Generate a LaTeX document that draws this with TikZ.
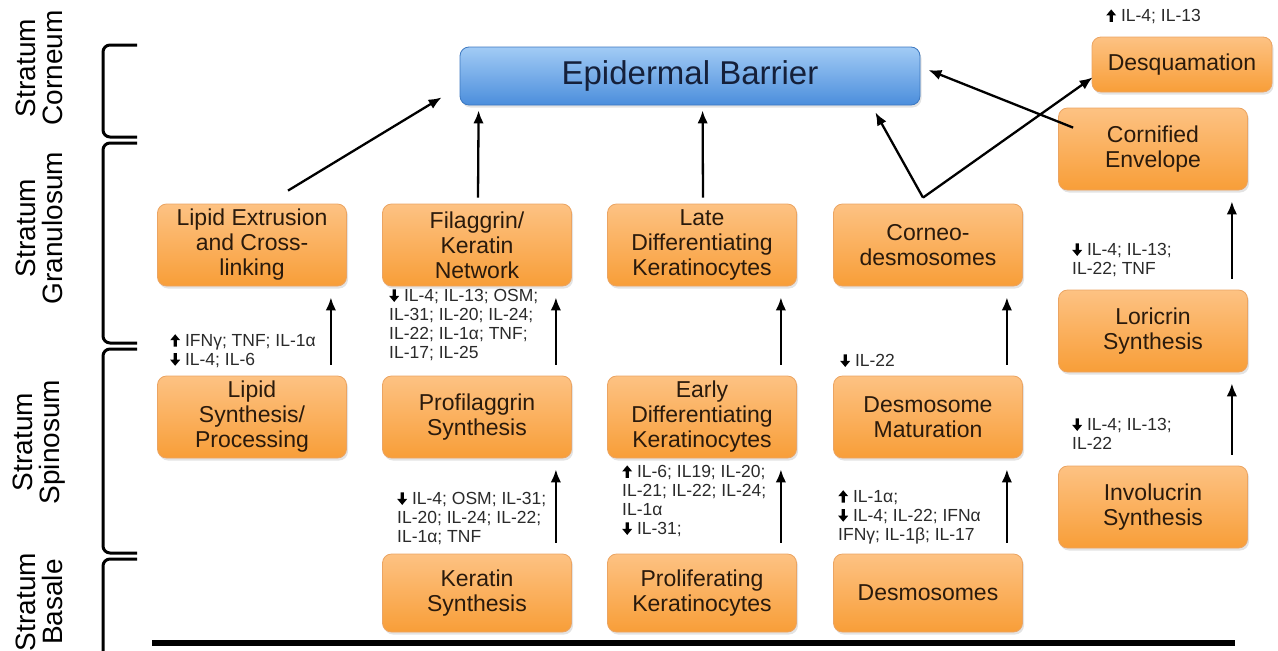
\documentclass[tikz,border=0pt]{standalone}
\usepackage{fontspec}
\setmainfont{Liberation Sans}
\usetikzlibrary{arrows.meta,calc,shadows}
\definecolor{ortop}{HTML}{FDC283}
\definecolor{orbot}{HTML}{F89E38}
\definecolor{ordraw}{HTML}{EBA462}
\definecolor{btop}{HTML}{A2CBF5}
\definecolor{bbot}{HTML}{4B8EDC}
\definecolor{bdraw}{HTML}{3C78C0}
\definecolor{boxtext}{HTML}{2A1A0C}
\definecolor{ebtext}{HTML}{15203A}
\definecolor{labtext}{HTML}{2A2A2A}
\newcommand{\uparr}{\tikz[baseline=0pt,x=1pt,y=1pt]\fill[black] (-1.6,-0.5) -- (1.6,-0.5) -- (1.6,6) -- (5,6) -- (0,12) -- (-5,6) -- (-1.6,6) -- cycle;}
\newcommand{\dnarr}{\tikz[baseline=0pt,x=1pt,y=1pt]\fill[black] (-1.6,12) -- (1.6,12) -- (1.6,5.5) -- (5,5.5) -- (0,-0.5) -- (-5,5.5) -- (-1.6,5.5) -- cycle;}
\tikzset{
  obox/.style={draw=ordraw, line width=0.8pt, rounded corners=9pt,
    top color=ortop, bottom color=orbot, minimum width=189pt, minimum height=82pt,
    align=center, font=\fontsize{23}{25}\selectfont, text=boxtext, inner sep=2pt,
    drop shadow={opacity=0.22, shadow xshift=1.5pt, shadow yshift=-2.5pt}},
  bbox/.style={obox, draw=bdraw, top color=btop, bottom color=bbot,
    font=\fontsize{33}{35}\selectfont, text=ebtext},
  lab/.style={anchor=north west, align=left, inner sep=0pt,
    font=\fontsize{17.5}{19}\selectfont, text=labtext},
  arr/.style={-{Latex[length=13pt,width=10.5pt]}, line width=2.3pt},
  bracepath/.style={line width=3pt, rounded corners=7pt},
  layer/.style={rotate=90, align=center, font=\fontsize{28}{27}\selectfont, inner sep=0pt},
}
\begin{document}
\begin{tikzpicture}[x=1pt,y=-1pt]
\useasboundingbox (0,0) rectangle (1278,651);

% layer labels
\node[layer] (lc) at (39,68) {Stratum\\Corneum};
\node[layer] (lg) at (39,228) {Stratum\\Granulosum};
\node[layer] (ls) at (39,442) {Stratum\\Spinosum};
\node[layer] (lb) at (39,602) {Stratum\\Basale};

% braces
\draw[bracepath] (137,45) -- (103,45) -- (103,137) -- (137,137);
\draw[bracepath] (137,143) -- (103,143) -- (103,343) -- (137,343);
\draw[bracepath] (137,349) -- (103,349) -- (103,553) -- (137,553);
\draw[bracepath] (137,559) -- (103,559) -- (103,670);
\draw[line width=5.5pt] (152,643) -- (1235,643);

% boxes
\node[bbox, minimum width=460pt, minimum height=58pt] (eb) at (690,76) {Epidermal Barrier};
\node[obox, minimum width=180pt, minimum height=55pt] (desq) at (1182,64.5) {Desquamation};
\node[obox] (corn) at (1153,149) {Cornified\\Envelope};

\node[obox] (ext) at (252,245) {Lipid Extrusion\\and Cross-\\linking};
\node[obox] (fil) at (477,245) {Filaggrin/\\Keratin\\Network};
\node[obox] (late) at (702,245) {Late\\Differentiating\\Keratinocytes};
\node[obox] (corneo) at (928,245) {Corneo-\\desmosomes};
\node[obox] (lor) at (1153,331) {Loricrin\\Synthesis};

\node[obox] (lsyn) at (252,417) {Lipid\\Synthesis/\\Processing};
\node[obox] (pro) at (477,417) {Profilaggrin\\Synthesis};
\node[obox] (early) at (702,417) {Early\\Differentiating\\Keratinocytes};
\node[obox] (dmat) at (928,417) {Desmosome\\Maturation};
\node[obox] (inv) at (1153,507) {Involucrin\\Synthesis};

\node[obox, minimum height=78pt] (ker) at (477,593) {Keratin\\Synthesis};
\node[obox, minimum height=78pt] (prol) at (702,593) {Proliferating\\Keratinocytes};
\node[obox, minimum height=78pt] (desm) at (928,593) {Desmosomes};

% labels
\node[lab] (l9) at (1106,9) {\uparr\ IL-4; IL-13};
\node[lab] (l1) at (170,334) {\uparr\ IFNγ; TNF; IL-1α\\\dnarr\ IL-4; IL-6};
\node[lab] (l2) at (389,289) {\dnarr\ IL-4; IL-13; OSM;\\IL-31; IL-20; IL-24;\\IL-22; IL-1α; TNF;\\IL-17; IL-25};
\node[lab] (l3) at (397,492) {\dnarr\ IL-4; OSM; IL-31;\\IL-20; IL-24; IL-22;\\IL-1α; TNF};
\node[lab] (l4) at (622,465) {\uparr\ IL-6; IL19; IL-20;\\IL-21; IL-22; IL-24;\\IL-1α\\\dnarr\ IL-31;};
\node[lab] (l5) at (838,490) {\uparr\ IL-1α;\\\dnarr\ IL-4; IL-22; IFNα\\IFNγ; IL-1β; IL-17};
\node[lab] (l6) at (840,354) {\dnarr\ IL-22};
\node[lab] (l7) at (1072,243) {\dnarr\ IL-4; IL-13;\\IL-22; TNF};
\node[lab] (l8) at (1072,418) {\dnarr\ IL-4; IL-13;\\IL-22};

% arrows to epidermal barrier
\draw[arr] ($(ext.north)+(36,-13)$) -- ($(eb.south west)+(-18,-8)$);
\draw[arr] ($(fil.north)+(1,-6)$) -- ($(eb.south west)+(19,5)$);
\draw[arr] ($(late.north)+(1,-6)$) -- ($(eb.south west)+(243,5)$);
\coordinate (cj) at ($(corneo.north)+(-5,-6)$);
\draw[arr] (cj) -- ($(eb.south east)+(-45,7)$);
\draw[arr] (cj) -- ($(desq.south west)+(1,-15)$);
\draw[arr] ($(corn.north west)+(15,20)$) -- ($(eb.east)+(8,-6)$);

% vertical arrows
\foreach \a/\b in {lsyn/ext, pro/fil, early/late, dmat/corneo, ker/pro, prol/early, desm/dmat, inv/lor, lor/corn}{
  \draw[arr] ($(\a.north east)+(-16,-11)$) -- ($(\b.south east)+(-16,11)$);
}
\end{tikzpicture}
\end{document}
